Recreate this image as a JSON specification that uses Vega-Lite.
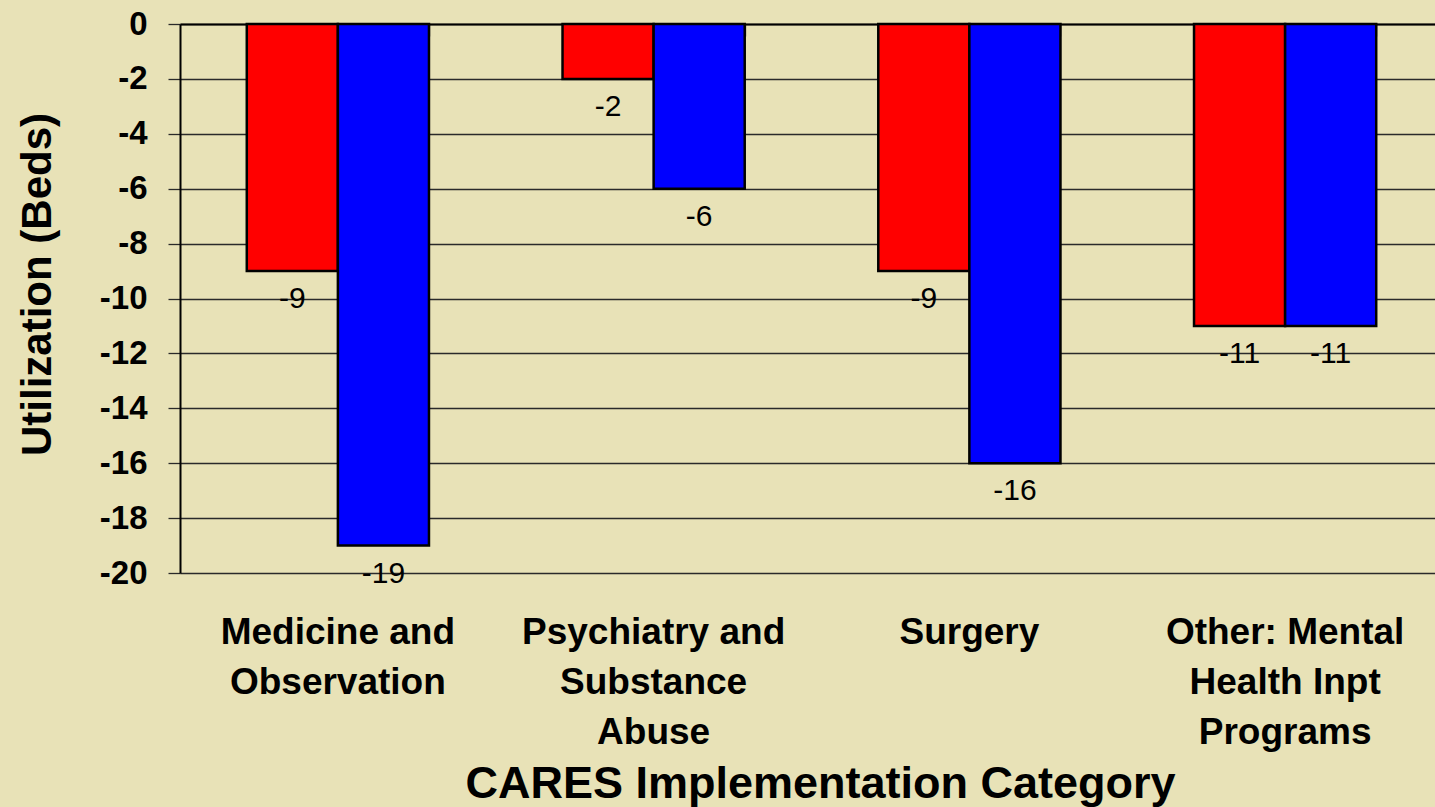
{
  "$schema": "https://vega.github.io/schema/vega-lite/v6.json",
  "autosize": {"type": "none"},
  "padding": {"left": 180, "top": 24, "right": 0, "bottom": 234},
  "width": 1255,
  "height": 549,
  "background": "#E8E2B7",
  "config": {
    "view": {"stroke": null},
    "font": "Liberation Sans"
  },
  "data": {
    "values": [
      {"category": "Medicine and Observation", "series": "Series 1", "value": -9},
      {"category": "Medicine and Observation", "series": "Series 2", "value": -19},
      {"category": "Psychiatry and Substance Abuse", "series": "Series 1", "value": -2},
      {"category": "Psychiatry and Substance Abuse", "series": "Series 2", "value": -6},
      {"category": "Surgery", "series": "Series 1", "value": -9},
      {"category": "Surgery", "series": "Series 2", "value": -16},
      {"category": "Other: Mental Health Inpt Programs", "series": "Series 1", "value": -11},
      {"category": "Other: Mental Health Inpt Programs", "series": "Series 2", "value": -11}
    ]
  },
  "encoding": {
    "y": {
      "field": "value",
      "type": "quantitative",
      "scale": {"domain": [-20, 0], "nice": false},
      "axis": {
        "title": "Utilization (Beds)",
        "values": [0, -2, -4, -6, -8, -10, -12, -14, -16, -18, -20],
        "labelExpr": "'' + datum.value",
        "grid": true,
        "gridColor": "#2a2a2a",
        "gridWidth": 1.3,
        "gridOpacity": 1,
        "domain": true,
        "domainColor": "#000000",
        "domainWidth": 2,
        "ticks": true,
        "tickSize": 12,
        "tickColor": "#2a2a2a",
        "tickWidth": 1.3,
        "labelFont": "Liberation Sans",
        "labelFontSize": 33,
        "labelFontWeight": "bold",
        "labelColor": "#000000",
        "labelPadding": 21,
        "labelBaseline": "middle",
        "titleFont": "Liberation Sans",
        "titleFontSize": 42,
        "titleFontWeight": "bold",
        "titleColor": "#000000",
        "titleAngle": -90,
        "titleX": -143,
        "titleY": 260,
        "titleAlign": "center",
        "titleBaseline": "middle"
      }
    },
    "xOffset": {
      "field": "series",
      "type": "nominal",
      "sort": ["Series 1", "Series 2"],
      "scale": {"paddingInner": 0, "paddingOuter": 0}
    }
  },
  "layer": [
    {
      "mark": {"type": "bar", "stroke": "#000000", "strokeWidth": 2.5},
      "encoding": {
        "x": {
          "field": "category",
          "type": "nominal",
          "sort": null,
          "scale": {"range": [0, 1263], "paddingInner": 0.423, "paddingOuter": 0.2115},
          "axis": {
            "orient": "bottom",
            "title": "CARES Implementation Category",
            "domain": false,
            "ticks": false,
            "labelAngle": 0,
            "labelLimit": 0,
            "labelFont": "Liberation Sans",
            "labelFontSize": 37,
            "labelFontWeight": "bold",
            "labelColor": "#000000",
            "labelPadding": 41,
            "labelLineHeight": 50,
            "labelBaseline": "top",
            "labelExpr": "datum.label == 'Medicine and Observation' ? ['Medicine and', 'Observation'] : datum.label == 'Psychiatry and Substance Abuse' ? ['Psychiatry and', 'Substance', 'Abuse'] : datum.label == 'Other: Mental Health Inpt Programs' ? ['Other: Mental', 'Health Inpt', 'Programs'] : datum.label",
            "titleFont": "Liberation Sans",
            "titleFontSize": 45,
            "titleFontWeight": "bold",
            "titleColor": "#000000",
            "titleX": 640,
            "titleY": 224,
            "titleAlign": "center",
            "titleBaseline": "alphabetic",
            "titleLimit": 0
          }
        },
        "color": {
          "field": "series",
          "type": "nominal",
          "scale": {"domain": ["Series 1", "Series 2"], "range": ["#FF0000", "#0000FF"]},
          "legend": null
        }
      }
    },
    {
      "mark": {"type": "text", "font": "Liberation Sans", "fontSize": 30, "color": "#000000", "baseline": "middle", "align": "center", "dy": 28},
      "encoding": {
        "x": {
          "field": "category",
          "type": "nominal",
          "sort": null,
          "axis": {
            "orient": "top",
            "title": null,
            "labels": false,
            "domain": true,
            "domainColor": "#000000",
            "domainWidth": 2,
            "ticks": true,
            "tickBand": "extent",
            "tickSize": -12,
            "tickColor": "#2a2a2a",
            "tickWidth": 1.3
          }
        },
        "text": {"field": "value", "type": "nominal"}
      }
    }
  ],
  "resolve": {"axis": {"x": "independent"}}
}
